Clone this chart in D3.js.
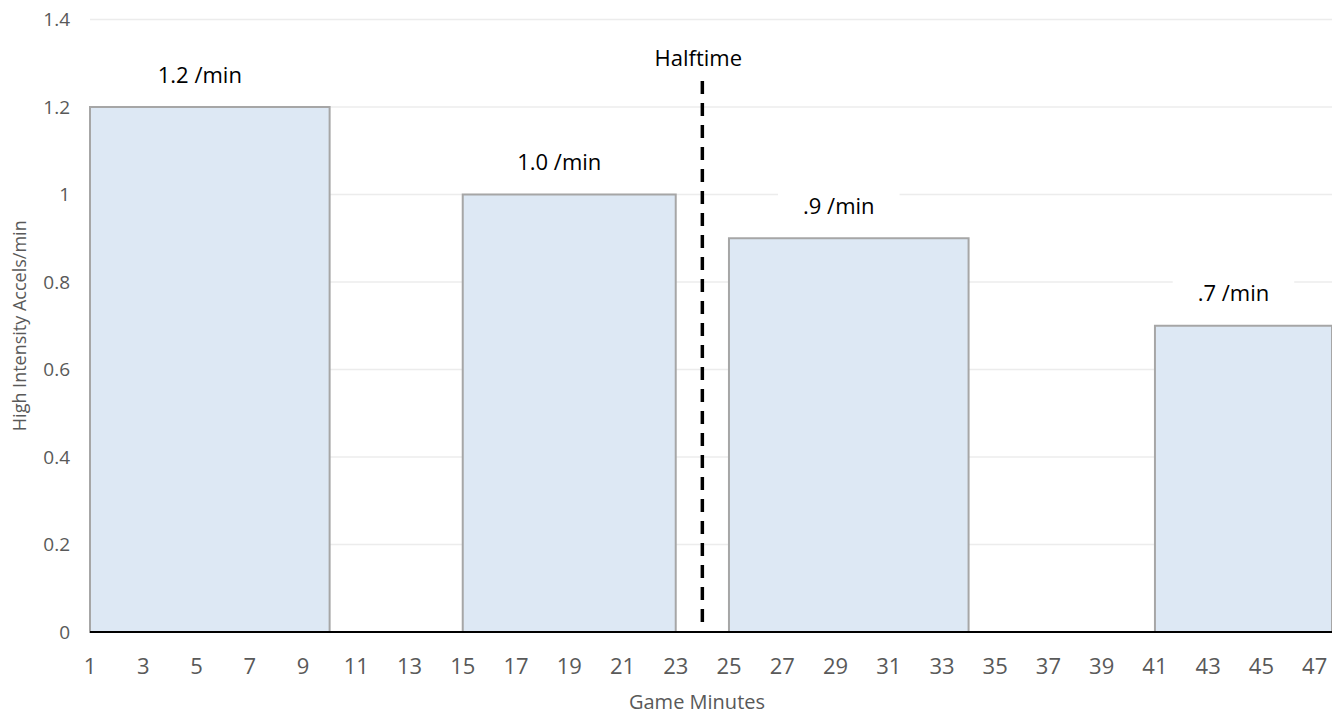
<!DOCTYPE html>
<html><head><meta charset="utf-8">
<script src="https://cdn.jsdelivr.net/npm/d3@7"></script>
<style>html,body{margin:0;padding:0;background:#fff;}svg{display:block;}</style>
</head><body>
<svg id="chart" width="1332" height="714"></svg>
<script>
// Data
const segStart = [1, 15, 25, 41];
const segEnd = [10, 23, 34, 47.65];
const values = [1.2, 1.0, 0.9, 0.7];
const barLabels = ["1.2 /min", "1.0 /min", ".9 /min", ".7 /min"];
const xTicks = d3.range(1, 48, 2);
const yTicks = [0, 0.2, 0.4, 0.6, 0.8, 1, 1.2, 1.4];
const halftime = 24;
const xDomain = [1, 47.65];
const yDomain = [0, 1.4];

const svg = d3.select("#chart");
const m = {left: 90, right: 0, top: 19.5, bottom: 82};
const W = 1332, H = 714;
const x = d3.scaleLinear().domain(xDomain).range([m.left, W - m.right]);
const y = d3.scaleLinear().domain(yDomain).range([H - m.bottom, m.top]);
const font = "'Open Sans', sans-serif";

// gridlines
svg.append("g").selectAll("line").data(yTicks.filter(d => d > 0)).join("line")
  .attr("x1", x.range()[0]).attr("x2", x.range()[1])
  .attr("y1", d => y(d)).attr("y2", d => y(d))
  .attr("stroke", "#ececec").attr("stroke-width", 1.5);

// y tick labels
svg.append("g").selectAll("text").data(yTicks).join("text")
  .attr("x", 70).attr("y", d => y(d)).attr("dy", "0.35em")
  .attr("text-anchor", "end").attr("font-family", font).attr("font-size", 19)
  .attr("fill", "#595959").text(d => d3.format("")(d));

// bars
const bars = segStart.map((s, i) => ({s, e: segEnd[i], v: values[i], label: barLabels[i]}));
svg.append("g").selectAll("rect").data(bars).join("rect")
  .attr("x", d => x(d.s)).attr("y", d => y(d.v))
  .attr("width", d => x(d.e) - x(d.s)).attr("height", d => y(0) - y(d.v))
  .attr("fill", "#dde8f4").attr("stroke", "#a6a6a6").attr("stroke-width", 2);

// x axis line
svg.append("line").attr("x1", x.range()[0]).attr("x2", x.range()[1])
  .attr("y1", y(0)).attr("y2", y(0)).attr("stroke", "#000").attr("stroke-width", 2);

// x tick labels
svg.append("g").selectAll("text").data(xTicks).join("text")
  .attr("x", d => x(d)).attr("y", 674).attr("text-anchor", "middle")
  .attr("font-family", font).attr("font-size", 22).attr("fill", "#595959").text(d => d);

// halftime line
svg.append("line").attr("x1", x(halftime)).attr("x2", x(halftime))
  .attr("y1", 81).attr("y2", y(0))
  .attr("stroke", "#000").attr("stroke-width", 3.5).attr("stroke-dasharray", "13,9");
svg.append("text").attr("x", x(halftime) - 4).attr("y", 58).attr("dy", "0.35em")
  .attr("text-anchor", "middle").attr("font-family", font).attr("font-size", 22)
  .attr("fill", "#000").text("Halftime");

// bar labels with white background
const lg = svg.append("g").selectAll("g").data(bars).join("g")
  .attr("transform", d => `translate(${(x(d.s) + x(d.e)) / 2 - 10},${y(d.v) - 32})`);
const lr = lg.append("rect").attr("fill", "#fff");
const lt = lg.append("text").attr("dy", "0.35em").attr("text-anchor", "middle")
  .attr("font-family", font).attr("font-size", 22).attr("fill", "#000").text(d => d.label);
lt.each(function(d, i) {
  const b = this.getBBox();
  d3.select(lr.nodes()[i]).attr("x", b.x - 25).attr("y", b.y - 4)
    .attr("width", b.width + 50).attr("height", b.height + 8);
});

// axis titles
svg.append("text").attr("transform", `translate(20,${(y(0) + y(1.4)) / 2}) rotate(-90)`)
  .attr("dy", "0.35em").attr("text-anchor", "middle").attr("font-family", font)
  .attr("font-size", 18).attr("fill", "#595959").text("High Intensity Accels/min");
svg.append("text").attr("x", 697).attr("y", 709)
  .attr("text-anchor", "middle").attr("font-family", font).attr("font-size", 20)
  .attr("fill", "#595959").text("Game Minutes");
</script>
</body></html>
